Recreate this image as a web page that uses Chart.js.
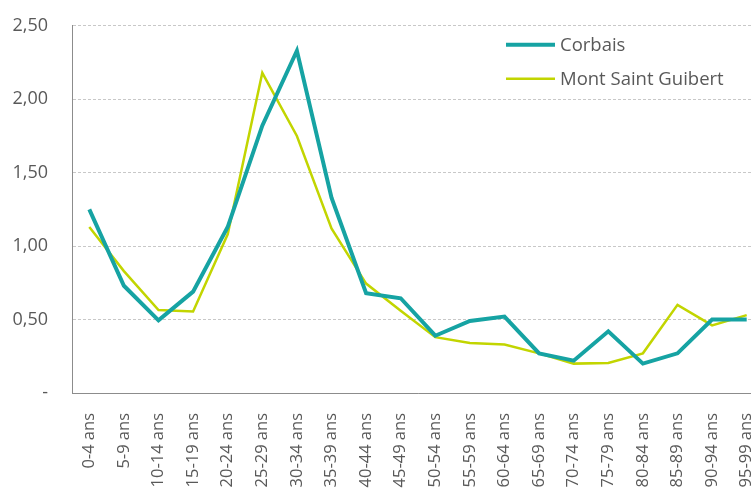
<!DOCTYPE html>
<html>
<head>
<meta charset="utf-8">
<script src="https://cdn.jsdelivr.net/npm/chart.js@4/dist/chart.umd.min.js"></script>
<style>
  html, body { margin: 0; padding: 0; background: #fff; overflow: hidden; }
  #wrap { position: relative; width: 790px; height: 520px; margin-top: -9px; }
</style>
</head>
<body>
<div id="wrap"><canvas id="ageChart" width="790" height="520"></canvas></div>
<script>
const ageGroups = ['0-4 ans','5-9 ans','10-14 ans','15-19 ans','20-24 ans','25-29 ans','30-34 ans','35-39 ans','40-44 ans','45-49 ans','50-54 ans','55-59 ans','60-64 ans','65-69 ans','70-74 ans','75-79 ans','80-84 ans','85-89 ans','90-94 ans','95-99 ans'];
const corbais = [1.25,0.73,0.495,0.69,1.13,1.82,2.33,1.33,0.68,0.645,0.39,0.49,0.52,0.27,0.22,0.42,0.20,0.27,0.50,0.50];
const montSaintGuibert = [1.13,0.83,0.565,0.555,1.08,2.18,1.75,1.12,0.745,0.56,0.38,0.34,0.33,0.27,0.20,0.205,0.27,0.60,0.46,0.53];
const yTicks = [0, 0.5, 1, 1.5, 2, 2.5];

(function() {
  const canvas = document.getElementById('ageChart');
  const FONT = '"Open Sans", "DejaVu Sans", sans-serif';
  const TEXT = '#595959';

  // legend drawn inside the plot, top right
  const boxLegend = {
    id: 'boxLegend',
    afterDraw(chart){
      const ctx = chart.ctx;
      const area = chart.chartArea;
      ctx.save();
      ctx.font = '18.5px ' + FONT;
      ctx.textBaseline = 'middle';
      chart.data.datasets.forEach((ds, i) => {
        const y = area.top + 19 + i * 34;
        const x = area.left + 434;
        ctx.strokeStyle = ds.borderColor;
        ctx.lineWidth = ds.borderWidth;
        ctx.beginPath(); ctx.moveTo(x, y); ctx.lineTo(x + 49, y); ctx.stroke();
        ctx.fillStyle = TEXT;
        ctx.fillText(ds.label, x + 54, y + 1);
      });
      ctx.restore();
    }
  };

  new Chart(canvas.getContext('2d'), {
    type: 'line',
    data: {
      labels: ageGroups,
      datasets: [
        { label: 'Corbais', data: corbais, borderColor: '#16a3a3', borderWidth: 4, pointRadius: 0, tension: 0, fill: false },
        { label: 'Mont Saint Guibert', data: montSaintGuibert, borderColor: '#c2d500', borderWidth: 2.5, pointRadius: 0, tension: 0, fill: false }
      ]
    },
    options: {
      responsive: false,
      animation: false,
      devicePixelRatio: 1,
      layout: { padding: { top: 15, right: 26, left: 0, bottom: 0 } },
      scales: {
        y: {
          min: 0, max: 2.5,
          afterBuildTicks: s => { s.ticks = yTicks.map(v => ({ value: v })); },
          afterFit: s => { s.width = 72; },
          ticks: {
            color: TEXT, padding: 24,
            font: { family: FONT, size: 18 },
            callback: v => v === 0 ? '-' : v.toFixed(2).replace('.', ',')
          },
          grid: { color: '#c8c8c8', drawTicks: false, tickLength: 0 },
          border: { display: true, color: '#8c8c8c', width: 1, dash: [3, 2] }
        },
        x: {
          offset: true,
          afterFit: s => { s.height = 118; },
          ticks: {
            color: TEXT, padding: 12, minRotation: 90, maxRotation: 90, autoSkip: false,
            font: { family: FONT, size: 16.5 }
          },
          grid: { display: false, offset: true },
          border: { display: true, color: '#8c8c8c', width: 1 }
        }
      },
      plugins: { legend: { display: false }, tooltip: { enabled: false } }
    },
    plugins: [boxLegend]
  });
})();
</script>
</body>
</html>
